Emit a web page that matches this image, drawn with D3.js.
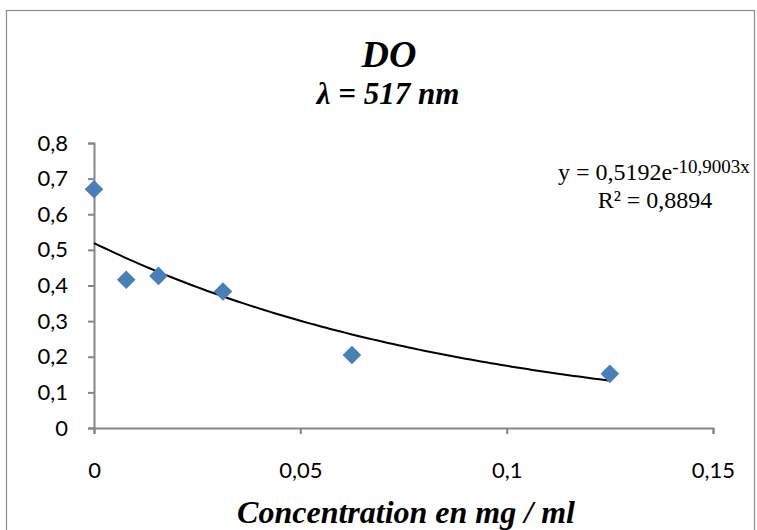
<!DOCTYPE html>
<html>
<head>
<meta charset="utf-8">
<script src="https://cdn.jsdelivr.net/npm/d3@7/dist/d3.min.js"></script>
<style>
  html, body { margin: 0; padding: 0; background: #fff; }
  svg { display: block; }
</style>
</head>
<body>
<svg id="chart" width="757" height="530"></svg>
<script>
// Measured absorbance against concentration
const concentrations = [0, 0.0078125, 0.015625, 0.03125, 0.0625, 0.125];
const absorbances = [0.67, 0.416, 0.427, 0.383, 0.205, 0.152];

// Exponential trend line parameters (y = a·e^(b·x))
const fitA = 0.5192;
const fitB = -10.9003;
const fitR2 = "0,8894";

const xTicks = [0, 0.05, 0.1, 0.15];
const xTickLabels = ["0", "0,05", "0,1", "0,15"];
const yTicks = [0, 0.1, 0.2, 0.3, 0.4, 0.5, 0.6, 0.7, 0.8];
const yTickLabels = ["0", "0,1", "0,2", "0,3", "0,4", "0,5", "0,6", "0,7", "0,8"];

const svg = d3.select("#chart");
const axisColor = "#868686";
const sans = "Lato, 'Open Sans', sans-serif";
const serif = "'Liberation Serif', 'Times New Roman', serif";

// Outer chart frame
svg.append("rect")
  .attr("x", 6.5).attr("y", 10.5)
  .attr("width", 748).attr("height", 540)
  .attr("fill", "none").attr("stroke", "#8c8c8c").attr("stroke-width", 1.2);

const plot = { left: 94, right: 713, top: 143, bottom: 428 };

const x = d3.scaleLinear().domain([0, 0.15]).range([plot.left, plot.right]);
const y = d3.scaleLinear().domain([0, 0.8]).range([plot.bottom, plot.top]);

// Y axis
const yAxis = d3.axisLeft(y)
  .tickValues(yTicks)
  .tickSize(6)
  .tickPadding(20)
  .tickFormat((d, i) => yTickLabels[i]);
const gy = svg.append("g").attr("transform", `translate(${plot.left},0)`).call(yAxis);
gy.select(".domain").attr("stroke", axisColor).attr("stroke-width", 2);
gy.selectAll(".tick line").attr("stroke", axisColor).attr("stroke-width", 2);
gy.selectAll(".tick text")
  .attr("fill", "#000")
  .style("font-family", sans)
  .style("font-size", "22px");

// X axis
const xAxis = d3.axisBottom(x)
  .tickValues(xTicks)
  .tickSize(6)
  .tickPadding(28)
  .tickFormat((d, i) => xTickLabels[i]);
const gx = svg.append("g").attr("transform", `translate(0,${plot.bottom})`).call(xAxis);
gx.select(".domain").attr("stroke", axisColor).attr("stroke-width", 2);
gx.selectAll(".tick line").attr("stroke", axisColor).attr("stroke-width", 2);
gx.selectAll(".tick text")
  .attr("fill", "#000")
  .style("font-family", sans)
  .style("font-size", "22px");

// Trend line over the data range
const fitX = d3.range(0, 101).map(i => i / 100 * d3.max(concentrations));
const line = d3.line()
  .x(d => x(d))
  .y(d => y(fitA * Math.exp(fitB * d)));
svg.append("path")
  .datum(fitX)
  .attr("d", line)
  .attr("fill", "none")
  .attr("stroke", "#000")
  .attr("stroke-width", 2);

// Diamond markers
const diamond = d3.symbol().type(d3.symbolDiamond2).size(220);
svg.append("g")
  .selectAll("path")
  .data(concentrations.map((c, i) => [c, absorbances[i]]))
  .join("path")
  .attr("d", diamond)
  .attr("transform", d => `translate(${x(d[0])},${y(d[1])})`)
  .attr("fill", "#4a7ebb");

// Titles
svg.append("text")
  .attr("x", 389).attr("y", 67)
  .attr("text-anchor", "middle")
  .style("font-family", serif)
  .style("font-weight", "bold").style("font-style", "italic")
  .style("font-size", "38px")
  .text("DO");
svg.append("text")
  .attr("x", 388).attr("y", 104)
  .attr("text-anchor", "middle")
  .style("font-family", serif)
  .style("font-weight", "bold").style("font-style", "italic")
  .style("font-size", "31px")
  .text("λ = 517 nm");

svg.append("text")
  .attr("x", 406).attr("y", 523)
  .attr("text-anchor", "middle")
  .style("font-family", serif)
  .style("font-weight", "bold").style("font-style", "italic")
  .style("font-size", "32px")
  .text("Concentration en mg / ml");

// Trend equation
const eq = svg.append("text")
  .attr("x", 558).attr("y", 180)
  .style("font-family", serif)
  .style("font-size", "24px");
eq.append("tspan").text("y = 0,5192e");
eq.append("tspan")
  .attr("dy", -7)
  .style("font-size", "19px")
  .text("-10,9003x");

svg.append("text")
  .attr("x", 655).attr("y", 208)
  .attr("text-anchor", "middle")
  .style("font-family", serif)
  .style("font-size", "24px")
  .text("R² = " + fitR2);
</script>
</body>
</html>
